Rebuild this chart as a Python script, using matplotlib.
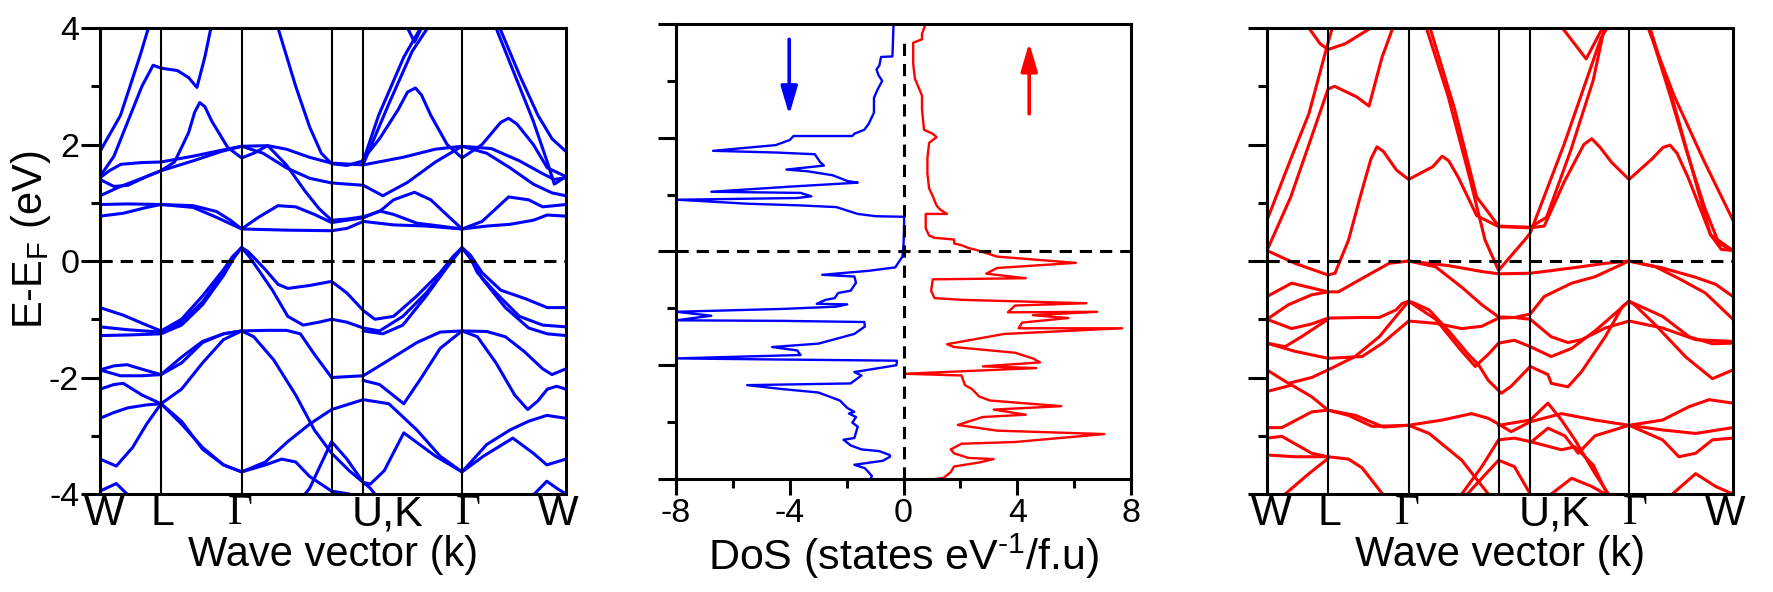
import numpy as np
import matplotlib
matplotlib.use("Agg")
import matplotlib.pyplot as plt
from matplotlib.ticker import MultipleLocator

plt.rcParams["font.family"] = ["Liberation Sans", "DejaVu Sans"]
plt.rcParams["mathtext.fontset"] = "custom"
plt.rcParams["mathtext.rm"] = "Liberation Sans"
plt.rcParams["axes.linewidth"] = 2.2
plt.rcParams["axes.unicode_minus"] = False

blue = '#0000ff'
red = '#ff0000'

# k-path (fraction of total path length)
k_nodes = [0.0, 0.131, 0.304, 0.497, 0.565, 0.777, 1.0]
k_labels = ['W', 'L', 'Γ', 'U,K', 'Γ', 'W']
k_label_pos = [0.009, 0.133, 0.300, 0.618, 0.790, 0.983]

# spin-down bands (k, E in eV)
bands_dn = [
    [(0, 1.88), (.044, 2.5), (.087, 3.55), (.115, 4.3), (.13, 4.8)],
    [(.84, 4.5), (.858, 4.0), (.90, 3.2), (.94, 2.5), (.97, 2.1), (1, 1.88)],
    [(.83, 4.5), (.85, 4.0), (.89, 3.2), (.93, 2.4), (.96, 1.7), (.975, 1.32), (1, 1.45)],
    [(0, 1.45), (.03, 1.8), (.06, 2.4), (.09, 3.0), (.114, 3.36), (.1315, 3.31), (.166, 3.27),
     (.19, 3.15), (.208, 2.98), (.225, 3.5), (.238, 4.0), (.25, 4.5)],
    [(0, 1.43), (.02, 1.55), (.045, 1.66), (.09, 1.69), (.131, 1.70), (.2, 1.8), (.26, 1.9),
     (.304, 1.97), (.36, 1.98), (.40, 1.92), (.45, 1.78), (.497, 1.68), (.565, 1.65), (.65, 1.78),
     (.72, 1.92), (.777, 1.97), (.84, 1.93), (.9, 1.72), (.95, 1.5), (.975, 1.4), (1, 1.43)],
    [(0, 1.12), (.044, 1.28), (.09, 1.42), (.131, 1.55), (.16, 1.7), (.19, 2.2), (.203, 2.55),
     (.214, 2.72), (.225, 2.65), (.24, 2.4), (.274, 1.95), (.304, 1.77), (.33, 1.85), (.36, 1.98),
     (.40, 1.65), (.44, 1.2), (.47, 0.9), (.497, 0.70), (.53, 0.72), (.565, 0.76), (.6, 0.85),
     (.63, 1.05), (.675, 1.18), (.71, 1.05), (.75, 0.75), (.777, 0.55), (.82, 0.68), (.877, 1.1),
     (.92, 1.05), (.95, 0.93), (1, 0.97)],
    [(0, 1.40), (.03, 1.28), (.06, 1.3), (.1, 1.45), (.131, 1.55), (.2, 1.72), (.26, 1.88),
     (.304, 1.97), (.35, 1.85), (.40, 1.6), (.45, 1.42), (.497, 1.34), (.565, 1.3), (.607, 1.12),
     (.66, 1.35), (.72, 1.7), (.777, 1.97), (.83, 1.85), (.88, 1.6), (.93, 1.32), (.97, 1.17),
     (1, 1.12)],
    [(0, 0.97), (.06, 0.98), (.131, 0.97), (.2, 0.95), (.25, 0.85), (.28, 0.7), (.304, 0.55),
     (.34, 0.75), (.382, 0.95), (.42, 0.93), (.46, 0.8), (.497, 0.66), (.53, 0.7), (.565, 0.74),
     (.6, 0.86), (.63, 0.8), (.68, 0.65), (.73, 0.6), (.777, 0.55), (.83, 0.6), (.88, 0.63),
     (.93, 0.7), (.96, 0.79), (1, 0.77)],
    [(0, 0.77), (.05, 0.82), (.1, 0.92), (.131, 0.97), (.2, 0.92), (.25, 0.75), (.304, 0.55),
     (.4, 0.53), (.497, 0.52), (.53, 0.56), (.565, 0.68), (.63, 0.62), (.7, 0.6), (.777, 0.55)],
    [(.565, 1.75), (.6, 2.1), (.64, 2.6), (.66, 2.9), (.677, 2.97), (.69, 2.85), (.71, 2.5),
     (.745, 2.0), (.777, 1.77), (.82, 2.0), (.86, 2.38), (.877, 2.45), (.895, 2.35), (.93, 2.0),
     (.96, 1.6), (1, 1.45)],
    [(.36, 4.6), (.382, 4.0), (.42, 3.0), (.45, 2.3), (.475, 1.85), (.497, 1.67), (.53, 1.64),
     (.565, 1.72), (.598, 2.5), (.652, 3.5), (.688, 4.0), (.70, 4.3)],
    [(.64, 4.4), (.66, 4.0), (.675, 3.76), (.69, 4.0), (.71, 4.4)],
    [(.565, 1.66), (.62, 2.7), (.67, 3.6), (.703, 4.0), (.72, 4.4)],
    [(0, -0.8), (.05, -0.93), (.1, -1.1), (.131, -1.2), (.175, -1.0), (.22, -0.6), (.265, -0.15),
     (.285, 0.08), (.304, 0.23), (.318, 0.16), (.335, 0.02), (.355, -0.15), (.382, -0.4),
     (.403, -0.47), (.45, -0.42), (.497, -0.35), (.53, -0.55), (.565, -0.85), (.59, -1.0),
     (.63, -0.95), (.68, -0.6), (.73, -0.2), (.758, 0.08), (.777, 0.23), (.795, 0.1), (.82, -0.2),
     (.86, -0.5), (.914, -0.65), (.96, -0.8), (1, -0.8)],
    [(0, -1.13), (.06, -1.18), (.131, -1.22), (.175, -1.05), (.22, -0.7), (.265, -0.2),
     (.287, 0.07), (.304, 0.23), (.32, 0.08), (.34, -0.15), (.37, -0.5), (.403, -0.95),
     (.436, -1.1), (.47, -1.05), (.497, -1.0), (.53, -1.05), (.565, -1.15), (.6, -1.2),
     (.65, -0.95), (.7, -0.55), (.75, -0.05), (.777, 0.23), (.795, 0.05), (.81, -0.2),
     (.85, -0.55), (.9, -0.95), (.95, -1.1), (1, -1.13)],
    [(0, -1.28), (.06, -1.27), (.131, -1.25), (.175, -1.1), (.22, -0.75), (.265, -0.25),
     (.287, 0.05), (.304, 0.23)],
    [(.565, -1.2), (.607, -1.25), (.65, -1.1), (.7, -0.6), (.75, -0.05), (.777, 0.23),
     (.797, 0.02), (.82, -0.3), (.87, -0.8), (.92, -1.15), (.96, -1.25), (1, -1.28)],
    [(0, -1.87), (.03, -1.8), (.058, -1.78), (.1, -1.88), (.131, -1.95), (.175, -1.75), (.22, -1.4),
     (.265, -1.25), (.304, -1.2), (.36, -1.19), (.40, -1.19), (.43, -1.25), (.46, -1.6),
     (.497, -2.0), (.565, -1.97), (.62, -1.7), (.68, -1.4), (.73, -1.22), (.777, -1.2),
     (.83, -1.21), (.87, -1.3), (.91, -1.55), (.95, -1.85), (.97, -1.95), (1, -1.85)],
    [(0, -1.87), (.044, -1.97), (.09, -1.97), (.131, -1.95), (.175, -1.65), (.22, -1.38),
     (.265, -1.25), (.304, -1.2), (.33, -1.3), (.373, -1.7), (.42, -2.3), (.46, -2.9), (.497, -3.3),
     (.535, -3.6), (.58, -3.9), (.60, -4.1)],
    [(.565, -2.05), (.6, -2.12), (.652, -2.45), (.69, -2.0), (.73, -1.5), (.777, -1.2), (.81, -1.3),
     (.85, -1.75), (.89, -2.3), (.918, -2.55), (.94, -2.4), (.96, -2.2), (.98, -2.15), (1, -2.2)],
    [(0, -2.2), (.03, -2.12), (.05, -2.1), (.09, -2.3), (.131, -2.45), (.175, -2.8), (.22, -3.2),
     (.265, -3.5), (.304, -3.62), (.355, -3.5), (.39, -3.4), (.42, -3.45), (.45, -3.7),
     (.497, -3.95), (.535, -4.0), (.55, -4.1)],
    [(0, -2.7), (.03, -2.6), (.06, -2.52), (.1, -2.47), (.131, -2.45), (.175, -2.2), (.22, -1.75),
     (.265, -1.35), (.304, -1.2)],
    [(0, -3.4), (.035, -3.52), (.07, -3.2), (.1, -2.8), (.131, -2.45), (.175, -2.75), (.22, -3.23),
     (.265, -3.5), (.304, -3.62), (.355, -3.45), (.403, -3.1), (.45, -2.8), (.497, -2.55),
     (.565, -2.38), (.62, -2.45), (.68, -2.9), (.73, -3.35), (.777, -3.62), (.83, -3.15),
     (.88, -2.9), (.92, -2.75), (.959, -2.65), (1, -2.7)],
    [(0, -3.95), (.035, -3.82), (.058, -4.0), (.07, -4.1)],
    [(.43, -4.1), (.45, -3.9), (.497, -3.1), (.53, -3.4), (.565, -3.8), (.58, -3.83), (.61, -3.6),
     (.652, -2.95), (.72, -3.35), (.777, -3.62), (.823, -3.35), (.886, -3.04), (.93, -3.3),
     (.959, -3.5), (1, -3.4)],
    [(.915, -4.1), (.932, -4.0), (.959, -3.78), (.98, -3.9), (1, -4.0)],
]

# spin-up bands (k, E in eV)
bands_up = [
    [(.06, 4.4), (.09, 4.0), (.114, 3.73), (.131, 3.63), (.168, 3.73), (.223, 4.0), (.24, 4.3)],
    [(0, 0.70), (.051, 1.75), (.09, 2.53), (.125, 3.57), (.14, 4.0), (.15, 4.4)],
    [(0, 0.18), (.051, 1.1), (.09, 2.0), (.131, 2.95), (.145, 3.0), (.192, 2.82), (.219, 2.66),
     (.247, 3.5), (.27, 4.0), (.285, 4.4)],
    [(0, 0.18), (.06, -0.04), (.131, -0.24), (.146, -0.21), (.175, 0.36), (.2, 1.1), (.223, 1.75),
     (.236, 1.96), (.25, 1.88), (.278, 1.56), (.304, 1.4), (.356, 1.62), (.376, 1.8), (.39, 1.72),
     (.411, 1.43), (.45, 0.78), (.497, 0.59), (.565, 0.57), (.595, 0.6), (.638, 1.36), (.68, 2.0),
     (.697, 2.1), (.715, 1.95), (.74, 1.69), (.777, 1.4), (.826, 1.75), (.85, 1.95), (.865, 1.99),
     (.88, 1.85), (.904, 1.43), (.952, 0.45), (1, 0.18)],
    [(.33, 4.4), (.342, 4.0), (.388, 2.85), (.435, 1.43), (.468, 0.36), (.497, -0.16), (.553, 0.36),
     (.565, 0.48), (.638, 2.01), (.717, 3.83), (.73, 4.0), (.745, 4.4)],
    [(.34, 4.4), (.35, 4.0), (.403, 2.6), (.45, 1.1), (.497, 0.6), (.565, 0.58), (.6, 0.75),
     (.652, 1.9), (.70, 3.1), (.724, 4.0), (.74, 4.4)],
    [(.62, 4.4), (.634, 4.0), (.685, 3.47), (.72, 4.0), (.735, 4.4)],
    [(.81, 4.4), (.818, 4.0), (.873, 2.85), (.936, 1.75), (1, 0.70)],
    [(.81, 4.4), (.822, 4.0), (.873, 2.7), (.952, 0.45), (.975, 0.2), (1, 0.18)],
    [(.81, 4.4), (.82, 4.0), (.865, 2.85), (.90, 1.9), (.94, 0.9), (.97, 0.3), (1, 0.18)],
    [(0, -.61), (.053, -.38), (.131, -.53), (.153, -.53), (.204, -.30), (.262, -.04), (.304, 0),
     (.362, -.10), (.418, -.45), (.461, -.75), (.497, -.96), (.531, -.97), (.565, -.91),
     (.595, -.61), (.654, -.38), (.704, -.27), (.777, 0), (.834, -.10), (.884, -.30), (.941, -.55),
     (1, -1.0)],
    [(.304, 0), (.39, -.08), (.461, -.18), (.497, -.22), (.565, -.21), (.654, -.12), (.726, -.04),
     (.777, 0), (.849, -.12), (.92, -.28), (.963, -.40), (1, -.61)],
    [(0, -1.0), (.046, -.75), (.096, -.58), (.131, -.53)],
    [(0, -1.0), (.053, -1.16), (.096, -1.08), (.131, -.98), (.197, -.97), (.241, -.97), (.277, -.84),
     (.29, -.73), (.304, -.69), (.318, -.73), (.348, -.84), (.39, -1.2), (.432, -1.6),
     (.454, -1.78), (.475, -2.05), (.503, -2.27), (.524, -2.15), (.565, -1.81), (.603, -1.95),
     (.61, -2.1), (.646, -2.16), (.675, -1.9), (.726, -1.3), (.763, -.78), (.777, -.69),
     (.79, -.76), (.834, -1.1), (.899, -1.65), (.956, -2.02), (1, -1.87)],
    [(0, -1.87), (.046, -2.1), (.096, -2.0), (.131, -1.87), (.189, -1.64), (.241, -1.3),
     (.277, -.95), (.304, -.69), (.362, -1.0), (.418, -1.55), (.447, -1.81), (.475, -1.6),
     (.497, -1.41), (.531, -1.36), (.565, -1.47), (.61, -1.64), (.654, -1.5), (.704, -1.2),
     (.74, -.95), (.777, -.69), (.849, -.95), (.906, -1.3), (.956, -1.42), (1, -1.41)],
    [(0, -1.41), (.06, -1.55), (.131, -1.67), (.204, -1.64), (.248, -1.41), (.304, -1.03),
     (.362, -1.07), (.418, -1.16), (.461, -1.12), (.497, -.98), (.531, -.97), (.565, -1.0),
     (.61, -1.3), (.646, -1.4), (.675, -1.35), (.726, -1.15), (.777, -1.03), (.849, -1.15),
     (.92, -1.35), (1, -1.38)],
    [(0, -1.41), (.039, -1.47), (.074, -1.3), (.131, -1.0)],
    [(0, -2.24), (.053, -2.13), (.096, -2.33), (.131, -2.56), (.175, -2.65), (.226, -2.84),
     (.304, -2.82), (.376, -2.73), (.439, -2.62), (.475, -2.7), (.497, -2.8), (.524, -2.93),
     (.565, -2.76), (.632, -2.62), (.704, -2.73), (.777, -2.82), (.849, -2.73), (.906, -2.5),
     (.949, -2.38), (1, -2.44)],
    [(0, -2.86), (.032, -2.86), (.096, -2.59), (.131, -2.56), (.19, -2.65), (.25, -2.85),
     (.304, -2.82), (.348, -2.96), (.418, -3.42), (.475, -4.0), (.49, -4.1)],
    [(0, -3.04), (.032, -3.01), (.096, -3.3), (.131, -3.36), (.175, -3.4), (.204, -3.55),
     (.248, -4.0), (.26, -4.1)],
    [(0, -3.33), (.06, -3.36), (.131, -3.36)],
    [(.039, -4.0), (.09, -3.65), (.131, -3.39)],
    [(.777, -2.82), (.849, -2.9), (.92, -2.96), (1, -2.86)],
    [(.565, -3.12), (.603, -2.87), (.639, -3.0), (.668, -3.3), (.704, -3.0), (.777, -2.82),
     (.849, -3.07), (.884, -3.36), (.92, -3.3), (.956, -3.07), (1, -3.04)],
    [(.855, -4.1), (.87, -4.0), (.92, -3.65), (.963, -3.87), (1, -4.0)],
    [(.41, -4.1), (.418, -4.0), (.461, -3.53), (.497, -3.07), (.531, -3.04), (.565, -3.1),
     (.632, -3.24), (.661, -3.19), (.70, -3.5), (.73, -4.0), (.74, -4.1)],
    [(.497, -2.82), (.565, -2.73), (.603, -2.44), (.632, -2.73), (.661, -3.07), (.704, -3.65),
     (.733, -4.0), (.745, -4.1)],
    [(.42, -4.1), (.43, -4.0), (.461, -3.73), (.497, -3.42), (.531, -3.53), (.565, -4.0), (.575, -4.1)],
    [(.605, -4.05), (.61, -4.0), (.654, -3.73), (.697, -3.87), (.726, -4.0), (.735, -4.05)],
]

# density of states (states/eV/f.u.) vs energy (eV)
dos_dn_x = [-0.35, -0.39, -0.79, -0.85, -0.95, -0.88, -0.75, -0.92, -1.04, -1.04, -1.23, -1.38,
            -1.73, -1.80, -3.87, -4.00, -4.50, -6.70, -4.50, -3.12, -2.93, -2.80, -4.12, -3.37,
            -2.49, -1.98, -1.61, -4.00, -6.76, -3.62, -3.24, -3.74, -7.95, -5.50, -3.62, -2.36,
            -1.61, -0.98, 0.02, 0.02, 0.0, -0.04, -0.29, -1.23, -2.86, -1.73, -1.67, -1.86, -2.30,
            -2.42, -2.74, -3.05, -1.98, -2.36, -4.25, -8.0, -6.76, -8.0, -4.25, -1.38, -1.36, -1.73,
            -2.99, -4.62, -3.74, -3.62, -8.0, -4.25, -0.23, -0.25, -1.73, -1.48, -1.86, -5.50,
            -4.25, -2.99, -2.24, -1.98, -1.73, -1.92, -1.67, -1.80, -1.61, -1.73, -2.11, -1.86,
            -1.48, -0.85, -0.48, -0.48, -0.73, -1.73, -1.36, -1.23, -1.11, -1.17]
dos_dn_E = [4.00, 3.43, 3.42, 3.27, 3.20, 3.10, 3.00, 2.84, 2.70, 2.44, 2.24, 2.14, 2.07, 2.03,
            2.03, 1.96, 1.87, 1.77, 1.74, 1.71, 1.57, 1.51, 1.44, 1.41, 1.34, 1.24, 1.21, 1.14,
            1.05, 1.03, 0.97, 0.94, 0.91, 0.84, 0.81, 0.78, 0.66, 0.62, 0.61, 0.44, 0.11, -0.09,
            -0.28, -0.34, -0.41, -0.44, -0.55, -0.69, -0.73, -0.82, -0.85, -0.92, -0.93, -0.97,
            -1.01, -1.06, -1.13, -1.21, -1.22, -1.24, -1.32, -1.45, -1.62, -1.68, -1.74, -1.82,
            -1.88, -1.90, -1.92, -2.00, -2.12, -2.18, -2.32, -2.35, -2.42, -2.48, -2.62, -2.75,
            -2.82, -2.85, -2.91, -3.01, -3.08, -3.28, -3.31, -3.41, -3.48, -3.51, -3.58, -3.61,
            -3.68, -3.75, -3.81, -3.88, -3.95, -4.00]
dos_up_x = [0.78, 0.65, 0.65, 0.34, 0.34, 0.40, 0.65, 0.65, 0.72, 1.03, 1.16, 0.90, 0.84, 0.84,
            0.90, 1.03, 1.16, 1.28, 1.53, 0.78, 0.78, 0.90, 1.09, 1.78, 1.78, 2.04, 2.29, 2.54,
            3.29, 6.06, 3.29, 2.91, 4.30, 1.03, 0.97, 1.09, 2.04, 6.43, 3.92, 3.67, 6.81, 4.55,
            5.80, 4.17, 4.05, 7.69, 3.54, 1.53, 1.78, 3.92, 4.55, 4.80, 2.79, 4.67, 0.03, 2.04,
            2.16, 2.41, 2.66, 3.04, 5.55, 3.17, 4.30, 2.79, 1.91, 3.29, 7.06, 3.92, 2.04, 1.66,
            1.78, 2.29, 3.17, 2.66, 1.78, 1.66, 1.41, 1.16]
dos_up_E = [4.00, 3.83, 3.73, 3.67, 3.30, 3.04, 2.74, 2.50, 2.14, 2.07, 2.01, 1.91, 1.64, 1.37,
            1.11, 0.97, 0.81, 0.74, 0.66, 0.66, 0.41, 0.28, 0.24, 0.21, 0.14, 0.11, 0.06, 0.03,
            -0.09, -0.20, -0.29, -0.39, -0.47, -0.49, -0.69, -0.82, -0.85, -0.91, -0.95, -1.07,
            -1.06, -1.12, -1.17, -1.25, -1.35, -1.35, -1.45, -1.63, -1.68, -1.78, -1.88, -1.95,
            -2.02, -2.05, -2.15, -2.18, -2.35, -2.42, -2.55, -2.62, -2.72, -2.78, -2.87, -2.91,
            -3.05, -3.15, -3.21, -3.35, -3.38, -3.48, -3.55, -3.63, -3.65, -3.71, -3.78, -3.88,
            -3.98, -4.00]

fig = plt.figure(figsize=(17.73, 5.92), dpi=100)
ax1 = fig.add_axes([0.0564, 0.1655, 0.2628, 0.7872])
ax2 = fig.add_axes([0.3813, 0.1909, 0.2566, 0.7686])
ax3 = fig.add_axes([0.7146, 0.1655, 0.2628, 0.7872])


def band_panel(ax, bands, color, show_ylabels):
    for b in bands:
        b = np.array(b)
        ax.plot(b[:, 0], b[:, 1], color=color, lw=2.2, solid_joinstyle='round')
    for kn in k_nodes[1:-1]:
        ax.axvline(kn, color='k', lw=1.5)
    ax.axhline(0, color='k', lw=2.2, dashes=(4, 2.6))
    ax.set_xlim(0, 1)
    ax.set_ylim(-4, 4)
    ax.set_yticks([-4, -2, 0, 2, 4])
    ax.yaxis.set_minor_locator(MultipleLocator(1))
    ax.tick_params(axis='y', which='major', direction='out', length=14, width=2.2,
                   labelsize=24.5, pad=1, labelleft=show_ylabels)
    ax.tick_params(axis='y', which='minor', direction='out', length=6.5, width=2.2)
    ax.set_xticks(k_label_pos)
    ax.set_xticklabels(k_labels)
    ax.tick_params(axis='x', length=0, labelsize=31, pad=0)
    for t in ax.get_xticklabels():
        if t.get_text() == 'Γ':
            t.set_fontfamily(['Liberation Serif', 'DejaVu Serif'])
    ax.set_xlabel('Wave vector (k)', fontsize=30, labelpad=1)


band_panel(ax1, bands_dn, blue, True)
ax1.set_ylabel('E-E$_\\mathregular{F}$ (eV)', fontsize=30)
ax1.yaxis.set_label_coords(-0.10, 0.545)
band_panel(ax3, bands_up, red, False)

# DoS panel
ax2.plot(dos_dn_x, dos_dn_E, color=blue, lw=1.7)
ax2.plot(dos_up_x, dos_up_E, color=red, lw=1.7)
ax2.axhline(0, color='k', lw=2.2, dashes=(4, 2.6))
ax2.axvline(0, color='k', lw=2.2, dashes=(4, 2.6), ymax=0.96)
ax2.set_xlim(-8, 8)
ax2.set_ylim(-4, 4)
ax2.set_xticks([-8, -4, 0, 4, 8])
ax2.xaxis.set_minor_locator(MultipleLocator(2))
ax2.set_yticks([-4, -2, 0, 2, 4])
ax2.yaxis.set_minor_locator(MultipleLocator(1))
ax2.tick_params(axis='y', which='major', direction='out', length=13, width=2.2, labelleft=False)
ax2.tick_params(axis='y', which='minor', direction='out', length=6.5, width=2.2)
ax2.tick_params(axis='x', which='major', direction='out', length=11.5, width=2.2,
                labelsize=24.5, pad=2)
ax2.tick_params(axis='x', which='minor', direction='out', length=6.5, width=2.2)
ax2.set_xlabel('DoS (states eV$^{\\text{-1}}$/f.u)', fontsize=31, labelpad=2)

ax2.annotate('', xy=(-4.02, 2.40), xytext=(-4.02, 3.73),
             arrowprops=dict(arrowstyle='-|>,head_length=0.85,head_width=0.25',
                             mutation_scale=20, color=blue, lw=2.6, shrinkA=0, shrinkB=0))
ax2.annotate('', xy=(4.42, 3.67), xytext=(4.42, 2.42),
             arrowprops=dict(arrowstyle='-|>,head_length=0.85,head_width=0.25',
                             mutation_scale=20, color=red, lw=2.6, shrinkA=0, shrinkB=0))

fig.savefig('out.png', dpi=100)
